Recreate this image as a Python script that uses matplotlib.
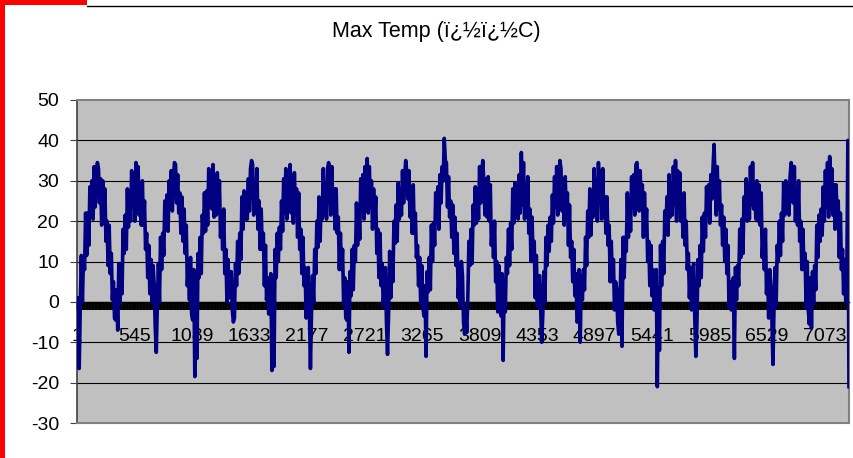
import numpy as np
import matplotlib.pyplot as plt
from matplotlib.patches import Rectangle
from matplotlib.lines import Line2D
from matplotlib.ticker import FixedLocator

plt.rcParams['font.family'] = ['Liberation Sans', 'DejaVu Sans']
plt.rcParams['axes.unicode_minus'] = False

#############################################################
# Data: daily max temp (~36 values per year)
#############################################################
yr01 = [1, -9, -16.5, -1.5, 11.5, 0, 11, 8, 22, 11.5, 22, 14, 28.5, 22.5, 30, 20.5, 33.5, 23.5,
        30, 34.5, 33, 24.5, 30.5, 19, 30, 21, 28, 15, 20, 9, 19, 7, 12, 0.5, 5, -4]
yr02 = [-4.5, 3, -7, 9.5, -0.5, 9, 2, 18, 12, 21.5, 13, 28, 18.5, 27.5, 20, 32.5, 23.5, 31.5,
        20, 34.5, 25, 33.5, 21.5, 29, 19, 30, 19, 25, 13, 17, 6, 14, 2, 10.5, 0, 9]
yr03 = [4.5, -6, -12.5, -0.5, 9.5, 0, 16, 8, 17, 11.5, 25, 18, 26.5, 17.5, 30, 24.5, 32.5, 22.5,
        30, 34.5, 34, 24.5, 31.5, 22, 27, 17, 26, 15, 23, 12, 19, 4, 9, 0.5, 11, -3]
yr04 = [-4.5, 8, -18.5, 4.5, -14, 12, 6, 16, 7, 21.5, 17, 27, 17.5, 27.5, 19, 33, 23.5, 32.5,
        23, 34, 21, 31.5, 21.5, 32, 22, 30, 16, 22, 13, 23, 7, 13, 0, 10.5, 1, 7]
yr05 = [7.5, -2, -5, -4, 9.5, 4, 15, 7, 17, 10.5, 26, 18, 27.5, 20.5, 27, 20.5, 30.5, 22.5,
        33, 35, 34, 21.5, 28.5, 22, 33, 18, 25, 13, 23, 13, 17, 4, 14, 0.5, 6, -3]
yr06 = [-0.5, 7, -17, 4.5, -16, 13, 6, 17, 10, 18.5, 13, 25, 17.5, 30.5, 22, 33, 20.5, 29.5,
        23, 34, 22, 30.5, 19.5, 32, 23, 28, 16, 27, 13, 18, 7, 16, 4, 8.5, -4, 7]
yr07 = [8.5, -2, -16.5, -2.5, 6.5, 0, 13, 7, 20, 13.5, 26, 15, 24.5, 20.5, 33, 21.5, 29.5, 20.5,
        33, 34.5, 32, 21.5, 33.5, 22, 28, 18, 28, 17, 21, 8, 17, 8, 13, -0.5, 6, -4]
yr08 = [-4.5, 5, -12.5, 7.5, 1.5, 13, 3, 14, 10, 24.5, 14, 24, 15.5, 30.5, 23, 31.5, 20.5, 33.5,
        23, 35.5, 22, 33.5, 23.5, 30, 18, 28, 20, 26, 12, 18, 6, 17, 4, 9.5, -1, 4]
yr09 = [8.5, -5, -13, -2.5, 12.5, 1, 12, 5, 20, 14.5, 24, 15, 29.5, 20.5, 28, 21.5, 32.5, 24.5,
        31, 35, 32, 25.5, 32.5, 21, 28, 17, 29, 17, 22, 11, 14, 4, 11, -0.5, 9, -1]
yr10 = [-3.5, 4, -13.5, 7.5, 2.5, 11, 3, 19, 10, 19.5, 14, 27, 19.5, 28.5, 18, 31.5, 24.5, 33.5,
        30, 40.5, 35, 34.5, 23.5, 31, 21, 25, 16, 24, 12, 21, 9, 17, 1, 6.5, -1, 10]
yr11 = [6.5, -5, -8, -2.5, -7.5, 1, 15, 9, 18, 9.5, 24, 19, 28.5, 19.5, 28, 20.5, 33.5, 24.5,
        32, 35, 29, 21.5, 30.5, 21, 31, 20, 29, 14, 19, 11, 20, 5, 10, -2.5, 9, 0]
yr12 = [-3.5, 7, -14.5, 5.5, -2.5, 11, 7, 18, 9, 19.5, 13, 28, 19.5, 29.5, 21, 28.5, 20.5, 31.5,
        22, 37, 24, 34.5, 20.5, 28, 21, 31, 17, 23, 10, 21, 10, 15, 1, 11.5, -1, 5]
yr13 = [6.5, -1, -10, -3.5, 7.5, 0, 16, 9, 19, 12.5, 21, 15, 26.5, 19.5, 31, 23.5, 33.5, 21.5,
        29, 35, 33, 22.5, 29.5, 19, 31, 21, 27, 14, 24, 11, 15, 5, 13, 1.5, 7, -5]
yr14 = [-4.5, 8, -10, 6.5, 0.5, 8, 3, 16, 9, 22.5, 16, 28, 16.5, 26.5, 21, 33, 21.5, 30.5,
        20, 34.5, 25, 32.5, 20.5, 33, 21, 26, 17, 26, 14, 19, 5, 15, 5, 10.5, -2, 5]
yr15 = [3.5, -5, -8, -3.5, 10.5, -11, 16, 6, 16, 12.5, 27, 16, 25.5, 17.5, 31, 24.5, 31.5, 21.5,
        34, 34.5, 30, 22.5, 32.5, 23, 29, 16, 27, 18, 23, 10, 15, 4, 14, 1.5, 8, -2]
yr16 = [-1.5, 8, -21, 3.5, -12, 14, 4, 15, 7, 22.5, 17, 26, 16.5, 31.5, 21, 29.5, 21.5, 33.5,
        24, 35, 20, 32.5, 24.5, 32, 20, 26, 16, 27, 14, 20, 8, 12, 1, 8.5, -2, 8]
yr17 = [9.5, -4, -13.5, -5.5, 10.5, 4, 14, 6, 21, 12.5, 22, 16, 28.5, 21.5, 29, 19.5, 31.5, 25.5,
        33, 39, 30, 21.5, 33.5, 23, 30, 19, 24, 14, 21, 10, 18, 7, 14, -1.5, 5, -2]
yr18 = [-0.5, 6, -14, 8.5, 0.5, 9, 4, 18, 11, 20.5, 12, 26, 20.5, 30.5, 20, 29.5, 20.5, 33.5,
        24, 34.5, 23, 29.5, 20.5, 30, 20, 29, 19, 27, 11, 17, 8, 18, 2, 7.5, -4, 8]
yr19 = [4.5, -4, -15.5, -1.5, 8.5, -1, 14, 10, 20, 11.5, 22, 15, 29.5, 21.5, 30, 22.5, 28.5, 21.5,
        31, 34.5, 33, 24.5, 33.5, 20, 27, 19, 30, 15, 20, 8, 18, 8, 12, -1.5, 10, -2]
yr20 = [-5.5, 6, -6.5, 7.5, -0.5, 9, 3, 19, 11, 21.5, 15, 23, 16.5, 28.5, 20, 32.5, 23.5, 34.5,
        21, 36, 23, 33, 21.5, 29, 18, 29, 20, 25, 11, 22, 8, 13, 2, 10.5, 0, 6]
end_vals = [40, -21]

n_days = 7305
xtick_days = [1, 545, 1089, 1633, 2177, 2721, 3265, 3809, 4353, 4897, 5441, 5985, 6529, 7073]
xtick_labels = [str(d) for d in xtick_days]
title = 'Max Temp (ï¿½ï¿½C)'

values = np.concatenate([yr01, yr02, yr03, yr04, yr05, yr06, yr07, yr08, yr09, yr10,
                         yr11, yr12, yr13, yr14, yr15, yr16, yr17, yr18, yr19, yr20, end_vals])
day = np.linspace(1, n_days, len(values))

#############################################################
# Plot
#############################################################
W, H = 854, 458
fig = plt.figure(figsize=(W / 100, H / 100), dpi=100)
ax = fig.add_axes([77 / W, 35 / H, 772 / W, 323 / H])
ax.set_facecolor('#c0c0c0')

ax.plot(day, values, color='#000080', lw=2.6, zorder=3)

ax.set_xlim(0.5, n_days + 0.5)
ax.set_ylim(-30, 50)
ax.set_yticks(np.arange(-30, 51, 10))
ax.yaxis.grid(True, color='black', lw=0.8)
gl = ax.yaxis.get_gridlines()
gl[0].set_visible(False)
gl[-1].set_visible(False)

ax.set_xticks(xtick_days)
ax.set_xticklabels(xtick_labels)
ax.xaxis.set_minor_locator(FixedLocator(np.arange(1, n_days + 1, 7)))

ax.spines['bottom'].set_position(('data', 0))
ax.spines['bottom'].set_color('black')
ax.spines['bottom'].set_linewidth(1)
ax.spines['left'].set_color('#404040')
ax.spines['left'].set_linewidth(1.2)
for s in ['top', 'right']:
    ax.spines[s].set_color('#808080')
    ax.spines[s].set_linewidth(1.5)
ax.axhline(-30, color='#808080', lw=1.5, clip_on=False, zorder=4)

ax.tick_params(axis='y', direction='out', length=5, width=0.8, color='#404040',
               labelsize=14, pad=8)
ax.tick_params(axis='x', which='both', direction='out', length=5.5, width=1.1,
               color='black', labelsize=14, pad=13)

fig.text(436.5 / W, 1 - 32 / H, title, ha='center', va='center', fontsize=15.5)

# selection frame
fig.add_artist(Rectangle((0, 0), 5 / W, 1, transform=fig.transFigure, color='red', lw=0))
fig.add_artist(Rectangle((0, 1 - 5 / H), 87 / W, 5 / H, transform=fig.transFigure,
                         color='red', lw=0))
fig.add_artist(Line2D([87 / W, 1], [1 - 5.5 / H, 1 - 5.5 / H], transform=fig.transFigure,
                      color='black', lw=1))

plt.savefig('out.png', dpi=100)
